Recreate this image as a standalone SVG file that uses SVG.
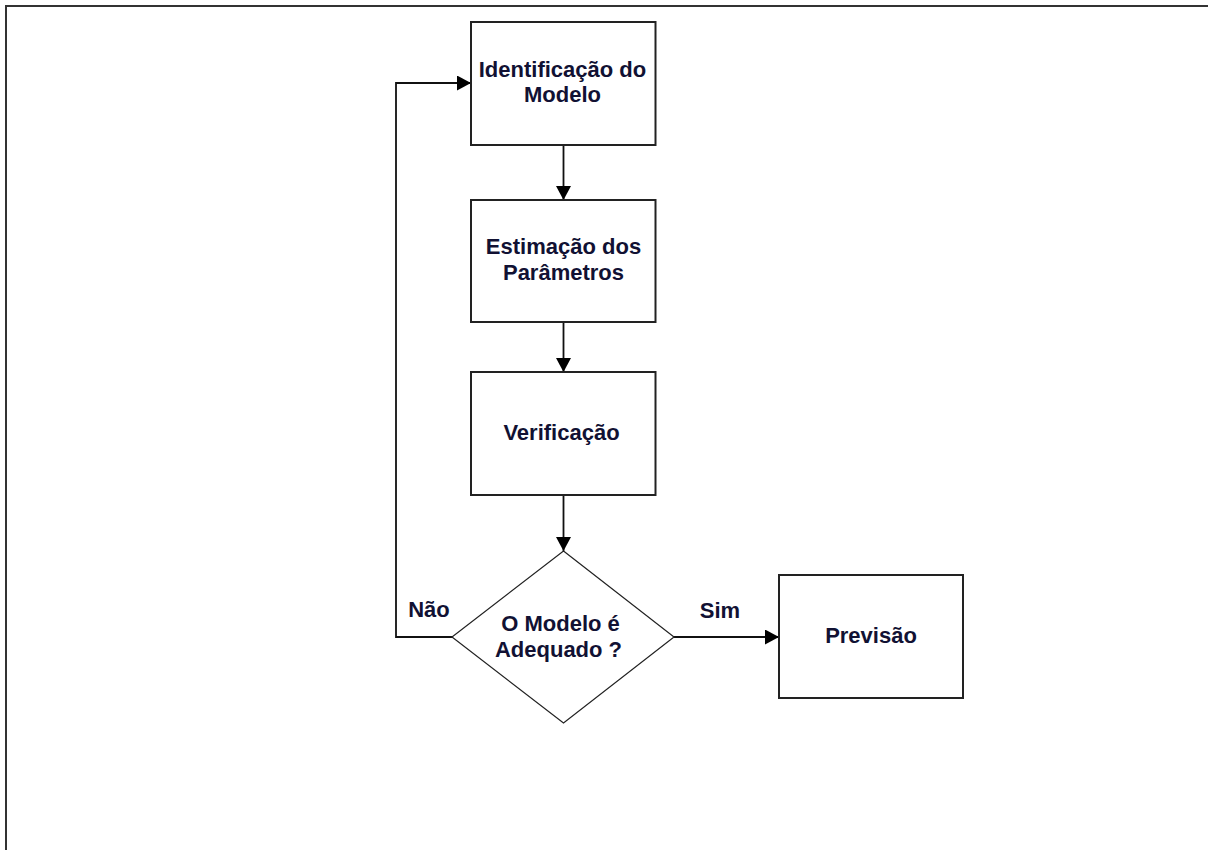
<svg xmlns="http://www.w3.org/2000/svg" width="1208" height="850" viewBox="0 0 1208 850">
<style>
.box{fill:#fff;stroke:#222;stroke-width:2}
.dia{fill:#fff;stroke:#222;stroke-width:1.2}
.t{font-family:"Liberation Sans",Arial,sans-serif;font-weight:bold;font-size:22px;fill:#111133;text-anchor:middle}
.c{fill:none;stroke:#111;stroke-width:1.8}
</style>
<defs>
<marker id="ah" markerWidth="14" markerHeight="15" refX="14" refY="7.5" orient="auto" markerUnits="userSpaceOnUse">
<path d="M0,0 L14,7.5 L0,15 Z" fill="#000"/>
</marker>
</defs>
<rect width="1208" height="850" fill="#fff"/>
<path d="M6,850 V6 H1208" fill="none" stroke="#333" stroke-width="2"/>
<g id="connectors">
<path class="c" d="M563.5,145 V200" marker-end="url(#ah)"/>
<path class="c" d="M563.5,322 V372" marker-end="url(#ah)"/>
<path class="c" d="M563.5,495 V551" marker-end="url(#ah)"/>
<path class="c" d="M674,637 H779" marker-end="url(#ah)"/>
<path class="c" d="M452,637 H396 V83 H471" marker-end="url(#ah)"/>
<text class="t" x="429" y="617">Não</text>
<text class="t" x="720" y="618">Sim</text>
</g>
<g id="n1">
<rect class="box" x="471" y="22" width="184.5" height="123"/>
<text class="t" x="562.5" y="77">Identificação do</text>
<text class="t" x="562.5" y="102">Modelo</text>
</g>
<g id="n2">
<rect class="box" x="471" y="200" width="184.5" height="122"/>
<text class="t" x="563.5" y="254">Estimação dos</text>
<text class="t" x="563.5" y="280">Parâmetros</text>
</g>
<g id="n3">
<rect class="box" x="471" y="372" width="184.5" height="123"/>
<text class="t" x="561.5" y="440">Verificação</text>
</g>
<g id="n4">
<polygon class="dia" points="563.5,551 674,637 563.5,723 452,637"/>
<text class="t" x="560.5" y="631">O Modelo é</text>
<text class="t" x="558.5" y="657">Adequado ?</text>
</g>
<g id="n5">
<rect class="box" x="779" y="575" width="184" height="123"/>
<text class="t" x="871" y="643">Previsão</text>
</g>
</svg>
